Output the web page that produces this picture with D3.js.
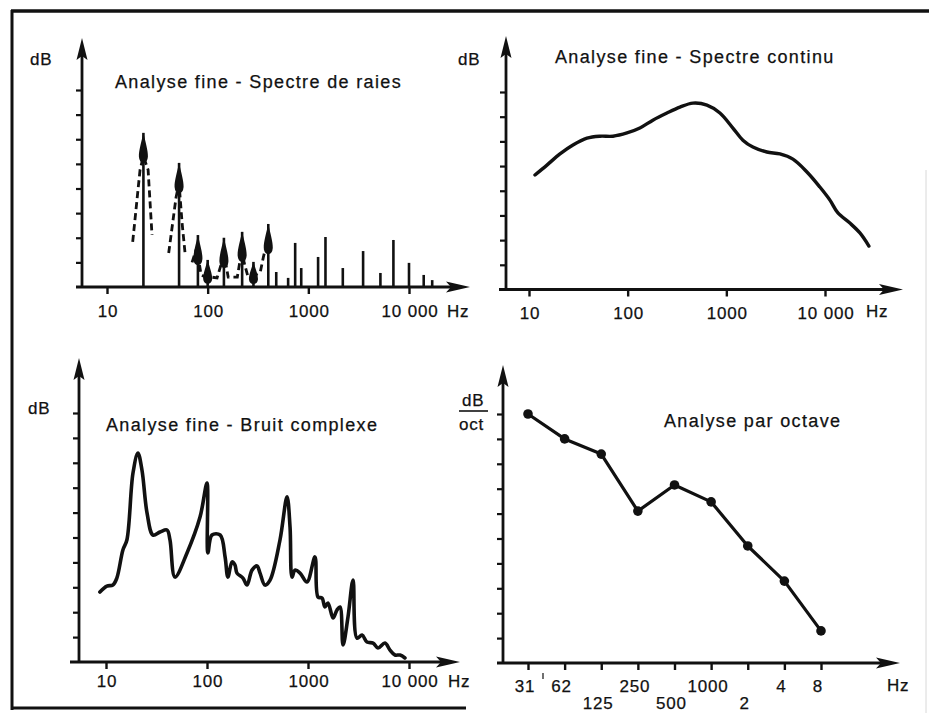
<!DOCTYPE html>
<html><head><meta charset="utf-8">
<script src="https://cdn.jsdelivr.net/npm/d3@7"></script>
<style>
html,body{margin:0;padding:0;background:#fff;}
svg{display:block;font-family:"Liberation Sans",Arial,Helvetica,sans-serif;}
</style></head><body>
<svg id="c" width="929" height="713"></svg>
<script>
// ---------------- data ----------------
const decadeTicks = [10, 100, 1000, 10000];
const decadeLabels = ["10", "100", "1000", "10 000"];
const levelTicks8 = [1, 2, 3, 4, 5, 6, 7, 8];
const levelTicks10 = [1, 2, 3, 4, 5, 6, 7, 8, 9, 10];

// Panel 1 : Analyse fine - Spectre de raies
const raieFreqs  = [23, 52, 80, 100, 145, 220, 285, 400, 480, 630, 740, 850, 1250, 1480, 2200, 3500, 5200, 7000, 10000, 14000, 17000];
const raieLevels = [6.26, 5.04, 2.11, 1.1, 2.0, 2.24, 1.02, 2.56, 0.61, 0.37, 1.79, 0.77, 1.22, 2.03, 0.77, 1.46, 0.57, 1.91, 0.98, 0.49, 0.28];
const env1Freqs  = [18, 21.3, 23, 25.6, 28];
const env1Levels = [1.83, 4.76, 5.3, 4.76, 2.11];
const env2Freqs  = [41, 48.6, 52, 55.7, 60];
const env2Levels = [1.38, 3.66, 4.2, 2.6, 1.26];
const env3Freqs  = [70, 78, 86, 95, 110, 124, 138, 145, 152, 160, 180, 197, 212, 220, 230, 250, 265, 300, 333, 357, 392, 400];
const env3Levels = [1.0, 1.6, 0.5, 0.4, 0.4, 0.37, 1.0, 1.5, 0.9, 0.4, 0.4, 0.4, 1.2, 1.6, 1.0, 0.45, 0.45, 0.5, 0.6, 1.2, 1.9, 2.2];

// Panel 2 : Analyse fine - Spectre continu
const contFreqs  = [11.5, 15.2, 20.6, 27.9, 38.7, 52.4, 71, 98.4, 133, 180, 250, 339, 459, 636, 861, 1166, 1472, 1858, 2576, 3491, 4730, 6561, 8872, 11220, 13520, 17870, 22590, 27860];
const contLevels = [4.64, 5.04, 5.49, 5.85, 6.13, 6.21, 6.21, 6.34, 6.54, 6.86, 7.15, 7.39, 7.55, 7.47, 7.15, 6.54, 6.05, 5.77, 5.57, 5.49, 5.28, 4.76, 4.15, 3.62, 3.10, 2.69, 2.29, 1.76];

// Panel 3 : Analyse fine - Bruit complexe
const bruitFreqs  = [8.7, 10.2, 11.7, 12.8, 14.7, 16.1, 18.5, 20.7, 22.7, 25.5, 29.2, 34.3, 40.2, 43, 48.2, 63.4, 85.3, 100, 102, 112, 135, 151, 161, 177, 189, 198, 227, 249, 279, 313, 335, 375, 421, 528, 620, 664, 695, 743, 834, 977, 1172, 1256, 1376, 1472, 1578, 1770, 1937, 2075, 2223, 2489, 2793, 3055, 3428, 3838, 4406, 4933, 5781, 6486, 7263, 8150, 9120];
const bruitLevels = [2.81, 3.05, 3.09, 3.37, 4.5, 4.9, 7.59, 8.39, 7.71, 5.98, 5.1, 5.22, 5.3, 4.9, 3.41, 4.38, 5.82, 7.19, 4.38, 5.1, 5.1, 4.22, 3.41, 4.02, 3.9, 3.57, 3.37, 3.09, 3.69, 3.86, 3.57, 3.09, 3.29, 4.9, 6.63, 5.42, 3.41, 3.69, 3.57, 3.21, 4.22, 2.61, 2.57, 2.21, 2.37, 1.77, 2.09, 2.21, 0.68, 1.81, 3.29, 0.96, 1.08, 0.8, 0.76, 0.56, 0.76, 0.48, 0.28, 0.28, 0.16];

// Panel 4 : Analyse par octave
const octaveLabels = ["31", "62", "125", "250", "500", "1000", "2", "4", "8"];
const octaveLevels = [10.0, 9.0, 8.39, 6.1, 7.15, 6.47, 4.7, 3.29, 1.29];
const octaveLowLabels = ["125", "500", "2"];

const titles = ["Analyse fine - Spectre de raies", "Analyse fine - Spectre continu", "Analyse fine - Bruit complexe", "Analyse par octave"];

// ---------------- drawing ----------------
const ink = "#111";
const svg = d3.select("#c");
svg.append("rect").attr("width", 929).attr("height", 713).attr("fill", "#fff");

// frame
svg.append("line").attr("x1", 11).attr("x2", 929).attr("y1", 11).attr("y2", 11).attr("stroke", ink).attr("stroke-width", 3.5);
svg.append("line").attr("x1", 12).attr("x2", 12).attr("y1", 10).attr("y2", 710).attr("stroke", ink).attr("stroke-width", 3);
svg.append("line").attr("x1", 11).attr("x2", 466).attr("y1", 708).attr("y2", 708).attr("stroke", ink).attr("stroke-width", 3);
svg.append("line").attr("x1", 926).attr("x2", 926).attr("y1", 170).attr("y2", 713).attr("stroke", "#d8d8d8").attr("stroke-width", 1);

function arrowUp(g, x, yTop) {
  g.append("path").attr("d", `M${x},${yTop} L${x + 5.5},${yTop + 22} L${x},${yTop + 18} L${x - 5.5},${yTop + 22} Z`).attr("fill", ink);
}
function arrowRight(g, xEnd, y) {
  g.append("path").attr("d", `M${xEnd},${y} L${xEnd - 24},${y - 5.5} L${xEnd - 19},${y} L${xEnd - 24},${y + 5.5} Z`).attr("fill", ink);
}
function frameAxes(g, x, y, yTicks, o) {
  const y0 = y(0);
  const ya = g.append("g").attr("transform", `translate(${o.ax},0)`)
    .call(d3.axisLeft(y).tickValues(yTicks).tickSize(6).tickFormat(""));
  ya.select(".domain").remove();
  ya.selectAll("line").attr("stroke", ink).attr("stroke-width", 2.2);
  const xa = g.append("g").attr("transform", `translate(0,${y0})`)
    .call(d3.axisBottom(x).tickValues(o.xTicks).tickSize(7).tickFormat(""));
  xa.select(".domain").remove();
  xa.selectAll("line").attr("stroke", ink).attr("stroke-width", 2.4);
  g.append("line").attr("x1", o.ax).attr("x2", o.ax).attr("y1", y0 + 1).attr("y2", o.top + 10)
    .attr("stroke", ink).attr("stroke-width", 2.8);
  arrowUp(g, o.ax, o.top);
  g.append("line").attr("x1", o.xStart).attr("x2", o.xEnd - 10).attr("y1", y0).attr("y2", y0)
    .attr("stroke", ink).attr("stroke-width", 2.8);
  arrowRight(g, o.xEnd, y0);
}
function title(g, txt, x, y) {
  g.append("text").attr("x", x).attr("y", y).attr("font-size", 18).attr("letter-spacing", 1.35)
    .attr("fill", ink).attr("stroke", ink).attr("stroke-width", 0.25).text(txt);
}
function label(g, txt, x, y, anchor) {
  g.append("text").attr("x", x).attr("y", y).attr("font-size", 17).attr("letter-spacing", 0.8)
    .attr("text-anchor", anchor || "middle").attr("fill", ink).attr("stroke", ink).attr("stroke-width", 0.25).text(txt);
}

// ---- Panel 1
{
  const g = svg.append("g");
  const x = d3.scaleLog().domain([10, 10000]).range([107, 409]);
  const y = d3.scaleLinear().domain([0, 8]).range([287, 90]);
  frameAxes(g, x, y, levelTicks8, { ax: 82, top: 38, xStart: 76, xEnd: 470, xTicks: decadeTicks });
  decadeTicks.forEach((t, i) => label(g, decadeLabels[i], x(t) + 1, 317));
  label(g, "Hz", 447, 317, "start");
  label(g, "dB", 30, 65, "start");
  title(g, titles[0], 115, 88);

  const env = d3.line().x((d) => x(d[0])).y((d) => y(d[1]));
  [[env1Freqs, env1Levels], [env2Freqs, env2Levels], [env3Freqs, env3Levels]].forEach(([fs, ls]) => {
    g.append("path").attr("d", env(fs.map((f, i) => [f, ls[i]])))
      .attr("fill", "none").attr("stroke", ink).attr("stroke-width", 2.8).attr("stroke-dasharray", "7,4");
  });
  raieFreqs.forEach((f, i) => {
    const bx = x(f), top = y(raieLevels[i]), base = y(0);
    g.append("line").attr("x1", bx).attr("x2", bx).attr("y1", base).attr("y2", top)
      .attr("stroke", ink).attr("stroke-width", 2.6);
    if (i < 8) {
      const h = Math.min(30, (base - top) * 0.88);
      g.append("path").attr("d",
        `M${bx},${top} C${bx + 2},${top + h * 0.3} ${bx + 4.8},${top + h * 0.6} ${bx + 4.5},${top + h * 0.8} Q${bx + 4},${top + h} ${bx},${top + h} Q${bx - 4},${top + h} ${bx - 4.5},${top + h * 0.8} C${bx - 4.8},${top + h * 0.6} ${bx - 2},${top + h * 0.3} ${bx},${top} Z`)
        .attr("fill", ink);
    }
  });
}

// ---- Panel 2
{
  const g = svg.append("g");
  const x = d3.scaleLog().domain([10, 10000]).range([529, 825]);
  const y = d3.scaleLinear().domain([0, 8]).range([289.5, 92]);
  frameAxes(g, x, y, levelTicks8, { ax: 506, top: 36, xStart: 499, xEnd: 903, xTicks: decadeTicks });
  decadeTicks.forEach((t, i) => label(g, decadeLabels[i], x(t) + 1, 319));
  label(g, "Hz", 866, 317, "start");
  label(g, "dB", 458, 65, "start");
  title(g, titles[1], 555, 63);
  const line = d3.line().x((d) => x(d[0])).y((d) => y(d[1])).curve(d3.curveCatmullRom.alpha(0.5));
  g.append("path").attr("d", line(contFreqs.map((f, i) => [f, contLevels[i]])))
    .attr("fill", "none").attr("stroke", ink).attr("stroke-width", 3.4)
    .attr("stroke-linecap", "round").attr("stroke-linejoin", "round");
}

// ---- Panel 3
{
  const g = svg.append("g");
  const x = d3.scaleLog().domain([10, 10000]).range([106, 409]);
  const y = d3.scaleLinear().domain([0, 10]).range([662, 413]);
  frameAxes(g, x, y, levelTicks10, { ax: 79, top: 358, xStart: 70, xEnd: 460, xTicks: decadeTicks });
  decadeTicks.forEach((t, i) => label(g, decadeLabels[i], x(t) + 1, 687));
  label(g, "Hz", 448, 687, "start");
  label(g, "dB", 28, 414, "start");
  title(g, titles[2], 106, 431);
  const line = d3.line().x((d) => x(d[0])).y((d) => y(d[1])).curve(d3.curveCatmullRom.alpha(0.5));
  g.append("path").attr("d", line(bruitFreqs.map((f, i) => [f, bruitLevels[i]])))
    .attr("fill", "none").attr("stroke", ink).attr("stroke-width", 3.6)
    .attr("stroke-linecap", "round").attr("stroke-linejoin", "round");
}

// ---- Panel 4
{
  const g = svg.append("g");
  const x = d3.scalePoint().domain(octaveLabels).range([528, 821]);
  const y = d3.scaleLinear().domain([0, 10]).range([663, 414]);
  frameAxes(g, x, y, levelTicks10, { ax: 503, top: 365, xStart: 497, xEnd: 900, xTicks: octaveLabels });
  octaveLabels.forEach((t) => {
    const low = octaveLowLabels.includes(t);
    label(g, t, x(t) - 3, low ? 709 : 692);
  });
  g.append("line").attr("x1", x("31") + 15).attr("x2", x("31") + 15).attr("y1", 673).attr("y2", 679)
    .attr("stroke", ink).attr("stroke-width", 1.2);
  label(g, "Hz", 887, 691, "start");
  label(g, "dB", 462, 406, "start");
  g.append("line").attr("x1", 459).attr("x2", 488).attr("y1", 411).attr("y2", 411).attr("stroke", ink).attr("stroke-width", 1.6);
  label(g, "oct", 459, 430, "start");
  title(g, titles[3], 664, 427);
  const line = d3.line().x((d) => x(d[0])).y((d) => y(d[1]));
  const pts = octaveLabels.map((c, i) => [c, octaveLevels[i]]);
  g.append("path").attr("d", line(pts)).attr("fill", "none").attr("stroke", ink).attr("stroke-width", 3.2)
    .attr("stroke-linejoin", "round");
  g.selectAll("circle.pt").data(pts).join("circle").attr("class", "pt")
    .attr("cx", (d) => x(d[0])).attr("cy", (d) => y(d[1])).attr("r", 4.8).attr("fill", ink);
}
</script>
</body></html>
